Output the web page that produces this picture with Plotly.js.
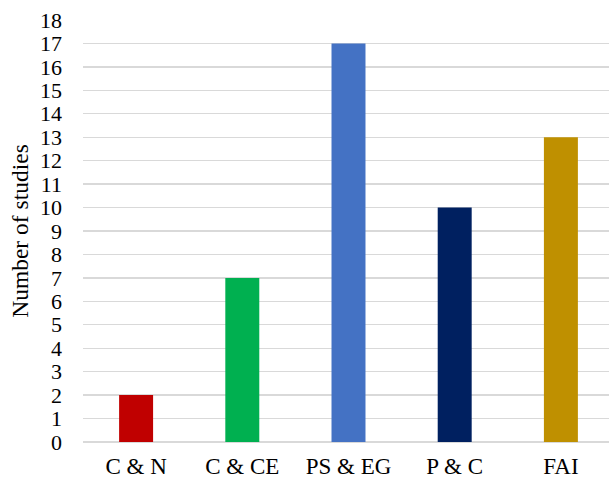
<!DOCTYPE html>
<html><head><meta charset="utf-8">
<script src="https://cdn.plot.ly/plotly-3.0.1.min.js"></script>
<style>html,body{margin:0;padding:0;background:#fff;overflow:hidden}#c{width:614px;height:479px}</style>
</head><body><div id="c"></div>
<script>
const categories = ["C & N", "C & CE", "PS & EG", "P & C", "FAI"];
const studies = [2, 7, 17, 10, 13];
const colors = ["#C00000", "#00B050", "#4472C4", "#002060", "#BF9000"];
const yTicks = [0,1,2,3,4,5,6,7,8,9,10,11,12,13,14,15,16,17,18];

Plotly.newPlot("c", [{
  type: "bar", x: categories, y: studies,
  marker: {color: colors, line: {width: 0}},
  hoverinfo: "none"
}], {
  width: 614, height: 479,
  margin: {l: 83, r: 0, t: 20, b: 37},
  bargap: 0.68,
  paper_bgcolor: "#fff", plot_bgcolor: "#fff",
  font: {family: "Liberation Serif, Times New Roman, serif", size: 22, color: "#000"},
  xaxis: {showgrid: false, showline: false, ticks: "", ticklabelstandoff: 8, tickfont: {size: 23}},
  yaxis: {range: [0, 18], tickvals: yTicks, showgrid: true, gridcolor: "#d9d9d9", gridwidth: 1.3,
          zeroline: true, zerolinecolor: "#d9d9d9", zerolinewidth: 1.3, showline: false,
          ticks: "", ticklabelstandoff: 20, tickfont: {size: 22},
          title: {text: "Number of studies", font: {size: 23.5}, standoff: 4}},
  showlegend: false
}, {staticPlot: true});
</script></body></html>
